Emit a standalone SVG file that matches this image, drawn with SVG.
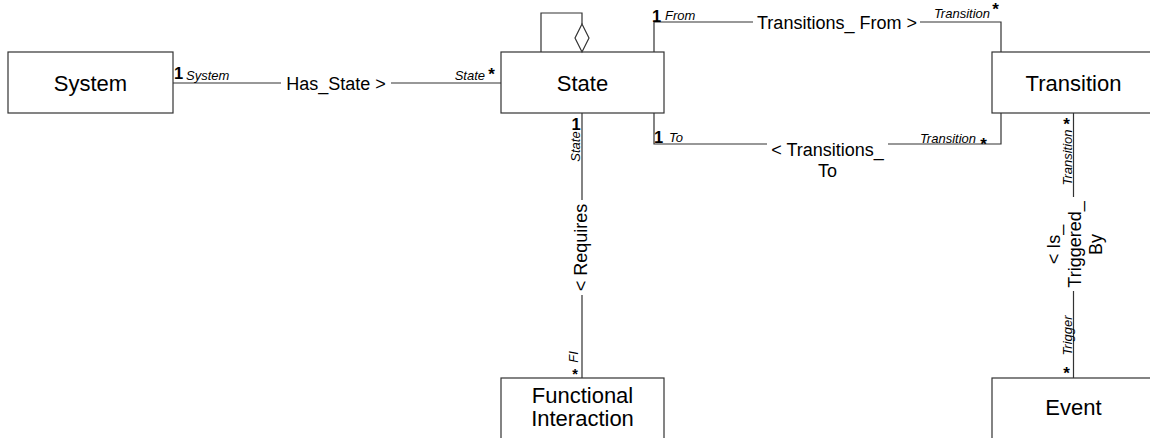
<svg xmlns="http://www.w3.org/2000/svg" width="1150" height="438" viewBox="0 0 1150 438">
<style>
.box{fill:#fff;stroke:#333;stroke-width:1.2}
.nt{font-family:"Liberation Sans",Arial,sans-serif;font-size:22px;fill:#000;text-anchor:middle}
.ln{fill:none;stroke:#333;stroke-width:1.2}
.lb{font-family:"Liberation Sans",Arial,sans-serif;font-size:18px;fill:#000}
.rl{font-family:"Liberation Sans",Arial,sans-serif;font-size:13px;font-style:italic;fill:#000}
.m1{font-family:"Liberation Sans",Arial,sans-serif;font-size:16.5px;font-weight:bold;fill:#000}
.st{font-family:"Liberation Sans",Arial,sans-serif;font-size:17px;font-weight:bold;fill:#000;text-anchor:middle}
</style>
<rect width="1150" height="438" fill="#fff"/>
<g id="node-system"><rect class="box" x="8" y="52" width="165" height="61"/><text class="nt" x="90.5" y="91">System</text></g>
<g id="node-state"><rect class="box" x="501" y="52" width="163" height="61"/><text class="nt" x="582.5" y="91">State</text></g>
<g id="node-transition"><rect class="box" x="992" y="52" width="165" height="61"/><text class="nt" x="1073.5" y="91">Transition</text></g>
<g id="node-fi"><rect class="box" x="501" y="378" width="163" height="70"/><text class="nt" x="582.5" y="403">Functional</text><text class="nt" x="582.5" y="426">Interaction</text></g>
<g id="node-event"><rect class="box" x="992" y="378" width="165" height="70"/><text class="nt" x="1073.5" y="415">Event</text></g>
<g id="connectors">
<!-- System - State -->
<path class="ln" d="M173,83 H281 M391,83 H501"/>
<text class="lb" x="336" y="89.5" text-anchor="middle">Has_State &gt;</text>
<text class="m1" x="174" y="78.5">1</text>
<text class="rl" x="186" y="80">System</text>
<text class="rl" x="485" y="80" text-anchor="end">State</text>
<text class="st" x="491.5" y="80">*</text>
<!-- self aggregation -->
<path class="ln" d="M541,52 V13 H582 V24"/>
<polygon points="582,24 575,38 582,52 589,38" fill="#fff" stroke="#333" stroke-width="1.2"/>
<!-- Transitions_From -->
<path class="ln" d="M654,52 V22 H753 M920,22 H1001 V52"/>
<text class="lb" x="837" y="28.5" text-anchor="middle">Transitions_ From &gt;</text>
<text class="m1" x="652" y="21.5">1</text>
<text class="rl" x="665" y="20">From</text>
<text class="rl" x="990" y="18" text-anchor="end">Transition</text>
<text class="st" x="995.5" y="15">*</text>
<!-- Transitions_To -->
<path class="ln" d="M654,113 V144 H767 M888,144 H1001 V113"/>
<text class="lb" x="827.5" y="155.5" text-anchor="middle">&lt; Transitions_</text>
<text class="lb" x="827.5" y="176.5" text-anchor="middle">To</text>
<text class="m1" x="654" y="142.5">1</text>
<text class="rl" x="669" y="142">To</text>
<text class="rl" x="976" y="143" text-anchor="end">Transition</text>
<text class="st" x="983.5" y="150">*</text>
<!-- Requires -->
<path class="ln" d="M582,113 V200 M582,295 V378"/>
<text class="lb" transform="translate(582,247.5) rotate(-90)" x="0" y="5" text-anchor="middle">&lt; Requires</text>
<text class="m1" x="571.5" y="129.5">1</text>
<text class="rl" transform="translate(580,146.5) rotate(-90)" text-anchor="middle">State</text>
<text class="rl" transform="translate(578,357) rotate(-90)" text-anchor="middle">FI</text>
<text class="st" x="575" y="379" style="font-size:14.5px">*</text>
<!-- Is_Triggered_By -->
<path class="ln" d="M1073.5,113 V197 M1073.5,291 V378"/>
<text class="lb" transform="translate(1073.5,244.5) rotate(-90)" text-anchor="middle"><tspan x="0" y="-14">&lt; Is_</tspan><tspan x="0" y="7">Triggered_</tspan><tspan x="0" y="28">By</tspan></text>
<text class="rl" transform="translate(1071.5,157.5) rotate(-90)" text-anchor="middle">Transition</text>
<text class="st" x="1066.5" y="130">*</text>
<text class="rl" transform="translate(1071.5,335.5) rotate(-90)" text-anchor="middle">Trigger</text>
<text class="st" x="1066.5" y="379">*</text>
</g>
</svg>
